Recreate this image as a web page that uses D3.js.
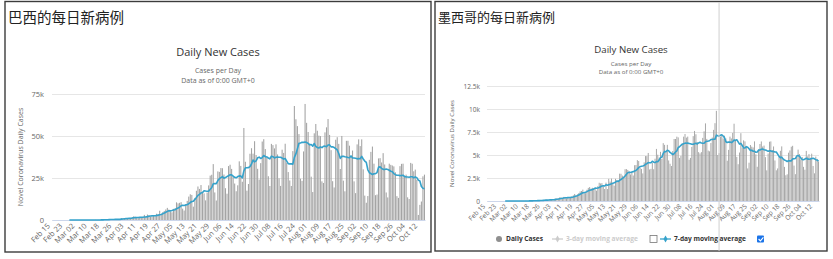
<!DOCTYPE html>
<html>
<head>
<meta charset="utf-8">
<script src="https://cdn.jsdelivr.net/npm/d3@7"></script>
<style>
  body { margin: 0; background: #fff; }
  svg { display: block; }
</style>
</head>
<body>
<svg id="chart" width="833" height="259"></svg>
<script>
// daily new cases, Feb 15 - Oct 15 2020, one row per week (Sat .. Fri)
var brazilCases = [
  0, 0, 0, 0, 0, 0, 0,
  0, 0, 0, 0, 1, 0, 0,
  0, 1, 0, 0, 0, 1, 6,
  6, 5, 6, 9, 18, 25, 21,
  79, 21, 34, 57, 137, 193, 283,
  224, 418, 345, 310, 232, 482, 502,
  487, 352, 323, 1138, 1119, 1074, 1146,
  1222, 852, 926, 1661, 2210, 1930, 1781,
  1089, 1442, 1261, 1832, 3058, 2105, 3257,
  2917, 2055, 1927, 2498, 2678, 3735, 3503,
  5514, 3379, 4613, 5385, 6276, 7218, 6209,
  4970, 4588, 6633, 6935, 10503, 9888, 10222,
  10611, 6760, 5632, 9258, 11385, 13944, 15305,
  14919, 7938, 13140, 17408, 19951, 18508, 20803,
  16508, 15813, 11687, 16324, 20599, 26417, 26928,
  33274, 16409, 11598, 28936, 28633, 30925, 30830,
  27075, 18921, 15654, 32091, 32913, 30412, 25982,
  21704, 17110, 20647, 34918, 32188, 22765, 54771,
  34666, 17459, 21432, 39436, 42725, 39483, 46907,
  38693, 30476, 24052, 33846, 46712, 48105, 42223,
  37279, 26051, 20229, 45305, 44571, 42619, 45048,
  39023, 24831, 20286, 41857, 39924, 45403, 34177,
  28532, 23529, 20257, 41008, 67860, 59961, 55891,
  51147, 24578, 23284, 40816, 69074, 57837, 52383,
  45392, 25800, 16641, 51603, 57152, 53139, 50230,
  49970, 23010, 22048, 52160, 55155, 60091, 50644,
  41576, 23101, 19373, 47784, 49298, 45323, 30355,
  50032, 23421, 17078, 47134, 47161, 44235, 38060,
  41350, 23000, 16000, 45000, 48000, 44000, 48000,
  30168, 14521, 10273, 14279, 35816, 40557, 43718,
  33523, 14768, 15155, 36653, 36820, 34239, 39797,
  33057, 16389, 13439, 33536, 32817, 32445, 31911,
  28378, 14194, 13155, 32058, 33413, 33524, 26310,
  27000, 13500, 12500, 34000, 33500, 29000, 30000,
  24000, 3000, 9000, 11000, 26000, 27000
];

var mexicoCases = [
  0, 0, 0, 0, 0, 0, 0,
  0, 0, 0, 0, 0, 0, 2,
  2, 1, 0, 0, 0, 0, 0,
  1, 0, 0, 0, 1, 4, 4,
  15, 15, 12, 11, 25, 46, 38,
  48, 65, 51, 38, 70, 100, 110,
  132, 145, 100, 121, 163, 178, 132,
  202, 278, 296, 253, 396, 393, 260,
  446, 442, 293, 357, 421, 450, 494,
  622, 764, 607, 728, 851, 1043, 1089,
  1239, 835, 852, 1223, 1425, 1515, 1349,
  1434, 1383, 1434, 1120, 1609, 1982, 1906,
  1938, 1562, 1305, 1997, 1305, 2409, 2112,
  2437, 1938, 1665, 2414, 2248, 2097, 2973,
  2960, 2764, 2558, 3455, 3463, 3377, 3227,
  2885, 3152, 2771, 3891, 3912, 4442, 4346,
  3593, 3484, 2999, 4199, 4883, 4883, 5222,
  3427, 3494, 4147, 3455, 4599, 5662, 5030,
  4717, 5343, 4577, 6288, 6104, 5437, 6104,
  4410, 4050, 3805, 5432, 6741, 6740, 6995,
  6914, 4683, 4902, 6258, 6995, 7280, 6891,
  7000, 4482, 4685, 5879, 7051, 7615, 7257,
  6406, 5311, 5172, 5311, 6859, 7573, 8438,
  6751, 5480, 5400, 6300, 6900, 7730, 8458,
  9800, 5000, 5200, 7000, 7200, 6800, 7100,
  6800, 4376, 5558, 7000, 6800, 7400, 8400,
  6600, 4800, 4000, 5267, 7371, 5792, 6590,
  6482, 5858, 3541, 4165, 6088, 5908, 5824,
  6482, 5074, 3719, 5614, 6196, 6476, 5925,
  6026, 4767, 3331, 5164, 6443, 6476, 5544,
  5928, 4408, 3335, 3542, 4771, 5455, 5937,
  4500, 3709, 2800, 2900, 5251, 5500, 5900,
  6000, 3848, 2917, 4789, 5585, 5099, 4536,
  4783, 3712, 3400, 5447, 4851, 5097, 4709,
  5143, 3807, 3007, 4828, 4577, 4295
];

var tickLabels = ["Feb 15", "Feb 23", "Mar 02", "Mar 10", "Mar 18", "Mar 26", "Apr 03",
  "Apr 11", "Apr 19", "Apr 27", "May 05", "May 13", "May 21", "May 29", "Jun 06",
  "Jun 14", "Jun 22", "Jun 30", "Jul 08", "Jul 16", "Jul 24", "Aug 01", "Aug 09",
  "Aug 17", "Aug 25", "Sep 02", "Sep 10", "Sep 18", "Sep 26", "Oct 04", "Oct 12"];

var brazilTicks = [0, 25000, 50000, 75000];
var mexicoTicks = [0, 2500, 5000, 7500, 10000, 12500];

var panelNames = ["巴西的每日新病例", "墨西哥的每日新病例"];
var chartTitle = "Daily New Cases";
var subtitleLines = ["Cases per Day", "Data as of 0:00 GMT+0"];
var axisTitle = "Novel Coronavirus Daily Cases";
var legendNames = ["Daily Cases", "3-day moving average", "7-day moving average"];
var hoverDay = "Aug 03";

var days = d3.utcDay.range(new Date(Date.UTC(2020, 1, 15)), new Date(Date.UTC(2020, 9, 16)));
var categories = days.map(d3.utcFormat("%b %d"));

var svg = d3.select("#chart");
var lineColor = "#35a2cb";
var barColor = "#a4a4a4";
var font = "'Open Sans', sans-serif";

function fmtK(v) { return v === 0 ? "0" : (v / 1000) + "k"; }

// trailing 7-day mean, as shown by the blue line
function movingAvg(values, n) {
  return values.map(function(v, i) {
    if (i < n - 1) return null;
    return d3.mean(values.slice(i - n + 1, i + 1));
  });
}

function drawPanel(cfg) {
  var s = cfg.scale;
  var g = svg.append("g");

  g.append("rect")
      .attr("x", cfg.box[0]).attr("y", cfg.box[1])
      .attr("width", cfg.box[2]).attr("height", cfg.box[3])
      .attr("fill", "#fff").attr("stroke", "#3c3c3c").attr("stroke-width", 1.4);

  g.append("text")
      .attr("x", cfg.box[0] + 3).attr("y", cfg.nameY)
      .attr("font-family", "'Noto Sans CJK SC', sans-serif")
      .attr("font-size", cfg.nameSize).attr("fill", "#222")
      .text(cfg.name);

  // highcharts centres the titles on the whole chart, not the plot
  var cx = cfg.box[0] + cfg.box[2] / 2;

  g.append("text")
      .attr("x", cx).attr("y", cfg.titleY)
      .attr("text-anchor", "middle")
      .attr("font-family", font)
      .attr("font-size", 11 * s).attr("fill", "#333")
      .text(chartTitle);

  g.selectAll(".sub").data(subtitleLines).join("text")
      .attr("x", cx).attr("y", function(d, i) { return cfg.subY + i * 10 * s; })
      .attr("text-anchor", "middle")
      .attr("font-family", font)
      .attr("font-size", 7 * s).attr("fill", "#666")
      .text(function(d) { return d; });

  var x = d3.scaleBand().domain(categories).range([cfg.left, cfg.right]).paddingInner(0.3);
  var y = d3.scaleLinear().domain([0, cfg.ticks[cfg.ticks.length - 1]]).range([cfg.bottom, cfg.top]);

  // y grid + labels
  var yAxis = g.append("g")
      .attr("transform", "translate(" + cfg.left + ",0)")
      .call(d3.axisLeft(y).tickValues(cfg.ticks).tickFormat(fmtK)
        .tickSize(-(cfg.right - cfg.left)).tickPadding(8 * s));
  yAxis.select(".domain").remove();
  yAxis.selectAll("line").attr("stroke", "#e6e6e6");
  yAxis.selectAll("text")
      .attr("font-family", font)
      .attr("font-size", 7.5 * s).attr("fill", "#666");

  g.append("text")
      .attr("transform", "translate(" + cfg.axisTitleX + "," + ((cfg.top + cfg.bottom) / 2) + ") rotate(-90)")
      .attr("text-anchor", "middle")
      .attr("font-family", font)
      .attr("font-size", 7 * s).attr("fill", "#666")
      .text(axisTitle);

  // bars
  g.append("g").selectAll("rect").data(cfg.values).join("rect")
      .attr("x", function(d, i) { return x(categories[i]); })
      .attr("y", function(d) { return y(d); })
      .attr("width", x.bandwidth())
      .attr("height", function(d) { return cfg.bottom - y(d); })
      .attr("fill", barColor);

  // x axis
  var xAxis = g.append("g")
      .attr("transform", "translate(0," + cfg.bottom + ")")
      .call(d3.axisBottom(x).tickValues(tickLabels).tickSize(0));
  xAxis.select(".domain").attr("stroke", "#ccd6eb");
  xAxis.selectAll("text")
      .attr("x", 0).attr("y", 0).attr("dy", 0)
      .attr("text-anchor", "end")
      .attr("transform", "translate(" + (-2 * s) + "," + (6.5 * s) + ") rotate(-45)")
      .attr("font-family", font)
      .attr("font-size", 7.5 * s).attr("fill", "#666");

  // 7-day moving average
  var avg = movingAvg(cfg.values, 7);
  g.append("path")
      .datum(avg)
      .attr("fill", "none")
      .attr("stroke", lineColor)
      .attr("stroke-width", 1.6)
      .attr("stroke-linejoin", "round")
      .attr("d", d3.line()
        .defined(function(d) { return d != null && d > 0; })
        .x(function(d, i) { return x(categories[i]) + x.bandwidth() / 2; })
        .y(function(d) { return y(d); }));

  return {x: x, y: y, g: g};
}

var left = drawPanel({
  name: panelNames[0], values: brazilCases, ticks: brazilTicks, scale: 1,
  box: [5, 1.5, 426, 250.5], nameY: 23, nameSize: 14.5,
  left: 52, right: 425, top: 94, bottom: 220,
  titleY: 56, subY: 72.5, axisTitleX: 23
});

var right = drawPanel({
  name: panelNames[1], values: mexicoCases, ticks: mexicoTicks, scale: 0.88,
  box: [435, 1.5, 392, 249.5], nameY: 21.5, nameSize: 13,
  left: 487, right: 819, top: 86, bottom: 201,
  titleY: 52.5, subY: 65.5, axisTitleX: 454
});

// hover crosshair left on the Mexico chart
var hx = right.x(hoverDay) + right.x.bandwidth() / 2;
right.g.append("line")
    .attr("x1", hx).attr("x2", hx).attr("y1", 2).attr("y2", 251)
    .attr("stroke", "#cfcfcf").attr("stroke-width", 1);

// legend (Mexico panel only)
var lg = right.g.append("g")
    .attr("font-family", font)
    .attr("font-size", 6.6).attr("font-weight", "bold");
var ly = 239;
lg.append("circle").attr("cx", 499).attr("cy", ly).attr("r", 3).attr("fill", "#8f8f8f");
lg.append("text").attr("x", 506).attr("y", ly + 2.4).attr("fill", "#333").text(legendNames[0]);

lg.append("line").attr("x1", 552).attr("x2", 563).attr("y1", ly).attr("y2", ly)
    .attr("stroke", "#ccc").attr("stroke-width", 1.3);
lg.append("path").attr("d", d3.symbol(d3.symbolDiamond, 14)())
    .attr("transform", "translate(557.5," + ly + ")").attr("fill", "#ccc");
lg.append("text").attr("x", 566).attr("y", ly + 2.4).attr("fill", "#ccc").text(legendNames[1]);
lg.append("rect").attr("x", 650).attr("y", ly - 3.5).attr("width", 7).attr("height", 7)
    .attr("fill", "#fff").attr("stroke", "#777").attr("stroke-width", 0.8);

lg.append("line").attr("x1", 660).attr("x2", 671).attr("y1", ly).attr("y2", ly)
    .attr("stroke", lineColor).attr("stroke-width", 1.3);
lg.append("path").attr("d", d3.symbol(d3.symbolDiamond, 14)())
    .attr("transform", "translate(665.5," + ly + ")").attr("fill", lineColor);
lg.append("text").attr("x", 674).attr("y", ly + 2.4).attr("fill", "#333").text(legendNames[2]);
lg.append("rect").attr("x", 757).attr("y", ly - 3.5).attr("width", 7).attr("height", 7)
    .attr("rx", 1).attr("fill", "#1a73e8");
lg.append("path").attr("d", "M758.6," + ly + " l1.8,1.9 l3,-3.6")
    .attr("fill", "none").attr("stroke", "#fff").attr("stroke-width", 1.1);
</script>
</body>
</html>
